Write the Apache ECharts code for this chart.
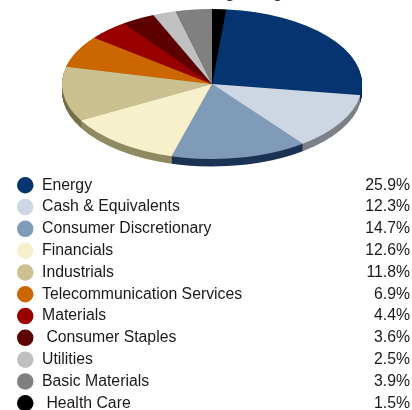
<!DOCTYPE html>
<html>
<head>
<meta charset="utf-8">
<script src="https://cdn.jsdelivr.net/npm/echarts@6/dist/echarts.min.js"></script>
<style>
  html, body { margin: 0; padding: 0; background: #ffffff; }
  #wrap { position: relative; width: 412px; height: 410px; overflow: hidden; }
  #pie { position: absolute; left: 0; top: 0; width: 412px; height: 340px; transform: scaleY(0.5); transform-origin: 0 0; }
  #legend { position: absolute; left: 0; top: 0; width: 412px; height: 450px; }
</style>
</head>
<body>
<div id="wrap">
  <div id="pie"></div>
  <div id="legend"></div>
</div>
<script>
const titleText = "Sector Weightings";
const categories = ["Energy", "Cash & Equivalents", "Consumer Discretionary", "Financials", "Industrials",
  "Telecommunication Services", "Materials", " Consumer Staples", "Utilities", "Basic Materials", " Health Care"];
const weights = [25.9, 12.3, 14.7, 12.6, 11.8, 6.9, 4.4, 3.6, 2.5, 3.9, 1.5];
const topColors = ["#043570", "#cdd7e3", "#7f9bb8", "#f7f0cc", "#cbc08f", "#cc6600", "#990000", "#5c0000", "#c0c0c0", "#808080", "#000000"];
const sideColors = ["#001f40", "#7b8089", "#1c3454", "#8f8a62", "#74704a", "#703800", "#500000", "#300000", "#707070", "#4a4a4a", "#000000"];

const pieChart = echarts.init(document.getElementById('pie'), null, { renderer: 'canvas' });
const depth = 15;
const series = [];
function pieData(colors) {
  return categories.map((c, i) => ({ name: c, value: weights[i], itemStyle: { color: colors[i] } }));
}
for (let k = depth; k >= 1; k--) {
  series.push({
    type: 'pie', center: [212, 168 + k], radius: 150, startAngle: 84.6, clockwise: true,
    silent: true, label: { show: false }, labelLine: { show: false },
    itemStyle: { borderWidth: 0 }, data: pieData(sideColors)
  });
}
series.push({
  type: 'pie', center: [212, 168], radius: 150, startAngle: 84.6, clockwise: true,
  silent: true, label: { show: false }, labelLine: { show: false },
  itemStyle: { borderWidth: 0 }, data: pieData(topColors)
});
pieChart.setOption({ animation: false, series: series });

const fs = 15.8;
const legendChart = echarts.init(document.getElementById('legend'), null, { renderer: 'canvas' });
legendChart.setOption({
  animation: false,
  title: {
    text: titleText, left: 'center', top: -26,
    textStyle: { fontFamily: 'Liberation Sans', fontSize: 22, fontWeight: 'normal', color: '#222' }
  },
  grid: { left: 0, right: 0, top: 0, bottom: 0, show: false },
  xAxis: { show: false, type: 'value' },
  yAxis: { show: false, type: 'value' },
  legend: {
    orient: 'vertical', left: 17, top: 177, icon: 'circle', padding: 0,
    itemWidth: 16.5, itemHeight: 16.5, itemGap: 5.3, selectedMode: false,
    data: categories,
    formatter: function (name) {
      const i = categories.indexOf(name);
      return '{n|' + name + '}{v|' + weights[i].toFixed(1) + '%}';
    },
    textStyle: {
      fontFamily: 'Liberation Sans', fontSize: fs, color: '#1a1a1a',
      rich: {
        n: { fontFamily: 'Liberation Sans', fontSize: fs, color: '#1a1a1a', width: 320, padding: [0, 0, 0, 3.5], lineHeight: 16.5 },
        v: { fontFamily: 'Liberation Sans', fontSize: fs, color: '#1a1a1a', width: 48, align: 'right', lineHeight: 16.5 }
      }
    }
  },
  series: categories.map((c, i) => ({
    type: 'scatter', name: c, data: [], itemStyle: { color: topColors[i], opacity: 1 }
  }))
});
</script>
</body>
</html>
